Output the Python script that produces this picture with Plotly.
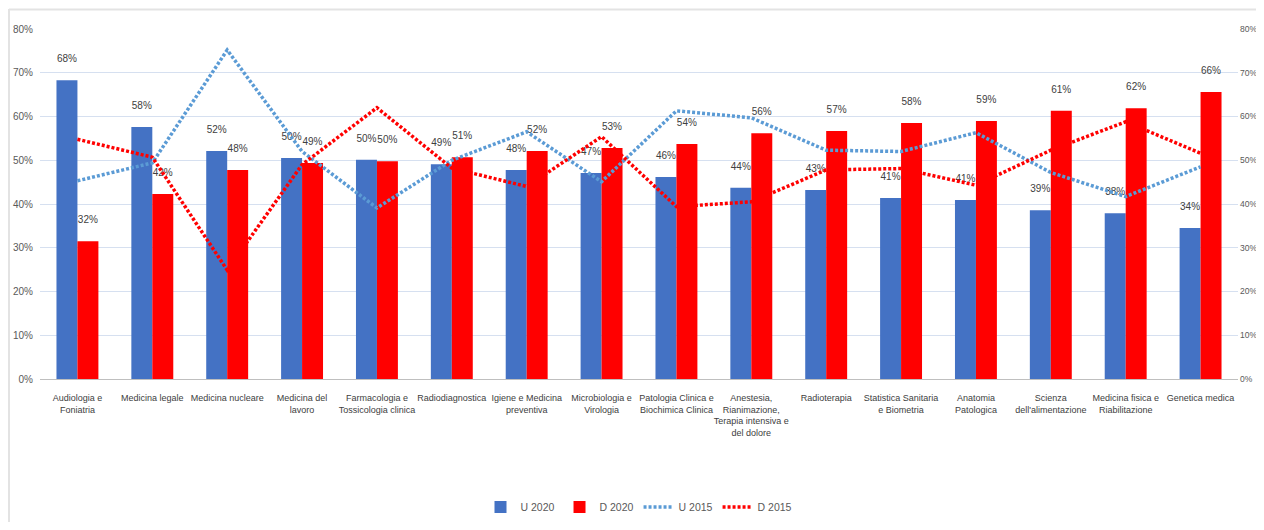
import plotly.graph_objects as go

categories = [
    "Audiologia e<br>Foniatria", "Medicina legale", "Medicina nucleare",
    "Medicina del<br>lavoro", "Farmacologia e<br>Tossicologia clinica",
    "Radiodiagnostica", "Igiene e Medicina<br>preventiva",
    "Microbiologia e<br>Virologia", "Patologia Clinica e<br>Biochimica Clinica",
    "Anestesia,<br>Rianimazione,<br>Terapia intensiva e<br>del dolore",
    "Radioterapia", "Statistica Sanitaria<br>e Biometria",
    "Anatomia<br>Patologica", "Scienza<br>dell'alimentazione",
    "Medicina fisica e<br>Riabilitazione", "Genetica medica",
]
u2020 = [68.3, 57.6, 52.1, 50.5, 50.1, 49.1, 47.8, 47.1, 46.2, 43.7, 43.2, 41.4, 40.9, 38.6, 37.9, 34.5]
d2020 = [31.5, 42.3, 47.8, 49.4, 49.8, 50.7, 52.1, 52.8, 53.7, 56.2, 56.7, 58.5, 59.0, 61.3, 61.9, 65.6]
u2015 = [45.3, 49.4, 75.2, 52.0, 39.1, 50.0, 56.5, 45.1, 61.3, 59.7, 52.3, 52.0, 56.3, 47.2, 41.7, 48.5]
d2015 = [54.8, 50.7, 24.9, 49.0, 62.0, 48.2, 44.0, 55.4, 39.4, 40.5, 47.8, 48.1, 44.3, 52.3, 58.8, 51.6]
y_ticks = [0, 10, 20, 30, 40, 50, 60, 70, 80]
y_ticktext = [f"{v}%" for v in y_ticks]

FONT = "Liberation Sans, Arial, sans-serif"
xs = list(range(len(categories)))

fig = go.Figure()
fig.add_trace(go.Bar(
    x=xs, y=u2020, name="U 2020", marker=dict(color="#4472C4", line=dict(width=0)),
    text=[f"{round(v):.0f}%" for v in u2020], texttemplate="%{text}<br> ",
    textposition="outside", cliponaxis=False,
    textfont=dict(size=10, color="#404040", family=FONT),
))
fig.add_trace(go.Bar(
    x=xs, y=d2020, name="D 2020", marker=dict(color="#FF0000", line=dict(width=0)),
    text=[f"{round(v):.0f}%" for v in d2020], texttemplate="%{text}<br> ",
    textposition="outside", cliponaxis=False,
    textfont=dict(size=10, color="#404040", family=FONT),
))
fig.add_trace(go.Scatter(
    x=xs, y=u2015, name="U 2015", mode="lines", yaxis="y2",
    line=dict(color="#5B9BD5", width=3.5, dash="3px,2px"),
))
fig.add_trace(go.Scatter(
    x=xs, y=d2015, name="D 2015", mode="lines", yaxis="y2",
    line=dict(color="#FF0000", width=3.5, dash="3px,2px"),
))

# page is rendered with an 8px body margin: figure coords = page coords - 8
W, H = 1248, 514
L, R, T, B = 32, 18, 21, 143
pw = W - L - R
ph = H - T - B


def px(x):
    return (x - 8 - L) / pw


def py(y):
    return (H - B - (y - 8)) / ph


fig.update_layout(
    width=W, height=H,
    margin=dict(l=L, r=R, t=T, b=B, autoexpand=False),
    paper_bgcolor="white", plot_bgcolor="white",
    barmode="group", bargap=0.44, bargroupgap=0,
    font=dict(family=FONT, color="#595959", size=10),
    showlegend=True,
    legend=dict(orientation="h", x=0.5, xanchor="center", y=py(507), yanchor="middle",
                font=dict(size=10.5, color="#595959", family=FONT), traceorder="normal",
                itemwidth=30),
    xaxis=dict(
        tickmode="array", tickvals=xs, ticktext=categories,
        range=[-0.5, len(categories) - 0.5], tickangle=0, automargin=False,
        showgrid=False, showline=True, linecolor="#BFBFBF", linewidth=1,
        ticks="", ticklabelstandoff=10,
        tickfont=dict(size=9, color="#404040", family=FONT),
    ),
    yaxis=dict(
        range=[0, 80], tickvals=y_ticks, ticktext=y_ticktext, automargin=False,
        showgrid=True, gridcolor="#D6E0F0", gridwidth=1, zeroline=False,
        showline=False, ticks="", ticklabelstandoff=6,
        tickfont=dict(size=10, color="#595959", family=FONT),
    ),
    yaxis2=dict(
        range=[0, 80], tickvals=y_ticks, ticktext=y_ticktext, overlaying="y", side="right",
        showgrid=False, zeroline=False, showline=False, ticks="", automargin=False,
        ticklabelstandoff=1,
        tickfont=dict(size=8.5, color="#595959", family=FONT),
    ),
    shapes=[
        dict(type="line", xref="paper", yref="paper", x0=px(9), x1=px(9), y0=py(9), y1=py(535),
             line=dict(color="#E3E3E3", width=2)),
        dict(type="line", xref="paper", yref="paper", x0=px(9), x1=px(1270), y0=py(9.5), y1=py(9.5),
             line=dict(color="#E3E3E3", width=2)),
    ],
)

fig.write_html("out.html")
